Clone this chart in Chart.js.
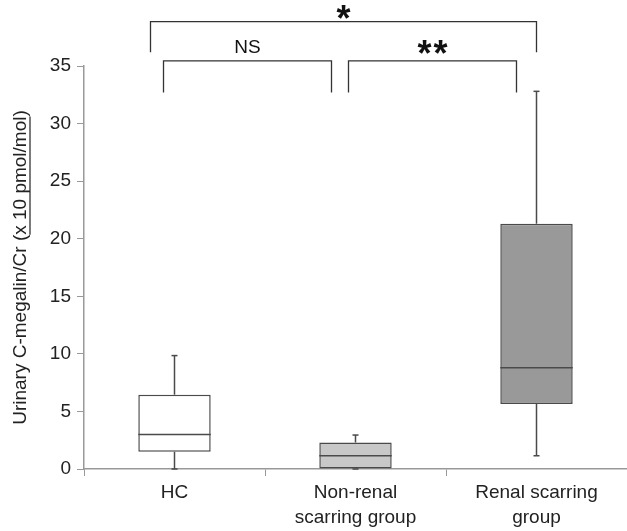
<!DOCTYPE html>
<html>
<head>
<meta charset="utf-8">
<script src="https://cdn.jsdelivr.net/npm/chart.js@4/dist/chart.umd.min.js"></script>
<style>
  html, body { margin: 0; padding: 0; background: #fff; }
  #wrap { width: 627px; height: 531px; }
</style>
</head>
<body>
<div id="wrap"><canvas id="chart"></canvas></div>
<script>
// box plot values
const groups = ['HC', ['Non-renal', 'scarring group'], ['Renal scarring', 'group']];
const mins = [0, 0, 1.15];
const q1s = [1.5, 0, 5.65];
const medians = [3.0, 1.15, 8.8];
const q3s = [6.45, 2.3, 21.3];
const maxs = [9.85, 2.95, 32.8];
const boxColors = ['#ffffff', '#c8c8c8', '#999999'];

// significance brackets between groups
const comparisons = [
  { from: 0, to: 1, label: 'NS', level: 0 },
  { from: 1, to: 2, label: '**', level: 0 },
  { from: 0, to: 2, label: '*', level: 1 }
];

const yTitle = ['Urinary C-megalin/Cr (', 'x 10 pmol/mol', ')'];
const FONT = '"Liberation Sans", Arial, sans-serif';

const boxPlugin = {
  id: 'boxes',
  afterDatasetsDraw(chart) {
    const ctx = chart.ctx;
    const x = chart.scales.x, y = chart.scales.y;
    const meta = chart.getDatasetMeta(0);
    ctx.save();
    ctx.strokeStyle = '#4a4a4a';
    ctx.lineWidth = 1.5;
    const line = (x1, y1, x2, y2) => {
      ctx.beginPath(); ctx.moveTo(x1, y1); ctx.lineTo(x2, y2); ctx.stroke();
    };
    groups.forEach((g, i) => {
      const cx = x.getPixelForValue(i);
      const w = meta.data[i].width;
      // whiskers
      line(cx, y.getPixelForValue(q3s[i]), cx, y.getPixelForValue(maxs[i]));
      line(cx - 3, y.getPixelForValue(maxs[i]), cx + 3, y.getPixelForValue(maxs[i]));
      if (q1s[i] > mins[i]) {
        line(cx, y.getPixelForValue(q1s[i]), cx, y.getPixelForValue(mins[i]));
      }
      line(cx - 3, y.getPixelForValue(mins[i]), cx + 3, y.getPixelForValue(mins[i]));
      // median
      line(cx - w / 2, y.getPixelForValue(medians[i]), cx + w / 2, y.getPixelForValue(medians[i]));
    });
    ctx.restore();
  },
  afterDraw(chart) {
    const ctx = chart.ctx;
    const x = chart.scales.x, y = chart.scales.y;
    ctx.save();
    // brackets
    ctx.strokeStyle = '#333';
    ctx.lineWidth = 1.3;
    ctx.fillStyle = '#111';
    ctx.textAlign = 'center';
    ctx.textBaseline = 'middle';
    comparisons.forEach(c => {
      const xa = x.getPixelForValue(c.from) + (c.level ? -24 : (c.from === 0 ? -11 : -7));
      const xb = x.getPixelForValue(c.to) + (c.level ? 0 : (c.to === 1 ? -24 : -20));
      const top = y.getPixelForValue(c.level ? 38.85 : 35.45);
      const bot = y.getPixelForValue(c.level ? 36.2 : 32.7);
      ctx.beginPath();
      ctx.moveTo(xa, bot); ctx.lineTo(xa, top); ctx.lineTo(xb, top); ctx.lineTo(xb, bot);
      ctx.stroke();
      const mid = (xa + xb) / 2;
      if (c.label === 'NS') {
        ctx.font = '19px ' + FONT;
        ctx.fillText(c.label, mid, top - 13);
      } else {
        ctx.font = 'bold 36px ' + FONT;
        const n = c.label.length, gap = 16;
        for (let k = 0; k < n; k++) {
          ctx.fillText('*', mid + (k - (n - 1) / 2) * gap, top - (c.level ? 1 : 5));
        }
      }
    });
    // y title with underlined unit
    ctx.font = '19px ' + FONT;
    ctx.fillStyle = '#222';
    ctx.textAlign = 'left';
    ctx.textBaseline = 'middle';
    const widths = yTitle.map(t => ctx.measureText(t).width);
    const total = widths.reduce((a, b) => a + b, 0);
    const cy = (chart.chartArea.top + chart.chartArea.bottom) / 2;
    ctx.translate(21, cy);
    ctx.rotate(-Math.PI / 2);
    let pos = -total / 2;
    yTitle.forEach((t, k) => {
      ctx.fillText(t, pos, 0);
      if (k === 1) {
        ctx.strokeStyle = '#222';
        ctx.lineWidth = 1.2;
        ctx.beginPath(); ctx.moveTo(pos, 9); ctx.lineTo(pos + widths[k], 9); ctx.stroke();
      }
      pos += widths[k];
    });
    ctx.restore();
  }
};

new Chart(document.getElementById('chart'), {
  type: 'bar',
  data: {
    labels: groups,
    datasets: [{
      data: q1s.map((q, i) => [q, q3s[i]]),
      backgroundColor: boxColors,
      borderColor: '#4a4a4a',
      borderWidth: 1.5,
      borderSkipped: false,
      categoryPercentage: 1,
      barPercentage: 0.4
    }]
  },
  options: {
    responsive: true,
    maintainAspectRatio: false,
    animation: false,
    layout: { padding: { top: 66, right: 0, left: 0, bottom: 0 } },
    plugins: { legend: { display: false }, tooltip: { enabled: false } },
    scales: {
      x: {
        grid: { display: true, drawOnChartArea: false, tickLength: 7, color: '#999', offset: true },
        border: { color: '#999', width: 1.5 },
        ticks: { color: '#222', font: { family: FONT, size: 19, lineHeight: 1.32 }, padding: 4, maxRotation: 0 },
        afterFit(s) { s.height = 62; }
      },
      y: {
        min: 0, max: 35,
        ticks: { stepSize: 5, color: '#222', font: { family: FONT, size: 19 }, padding: 6 },
        grid: { drawOnChartArea: false, tickLength: 7, color: '#999' },
        border: { color: '#999', width: 1.5 },
        afterFit(s) { s.width = 84; }
      }
    }
  },
  plugins: [boxPlugin]
});
</script>
</body>
</html>
